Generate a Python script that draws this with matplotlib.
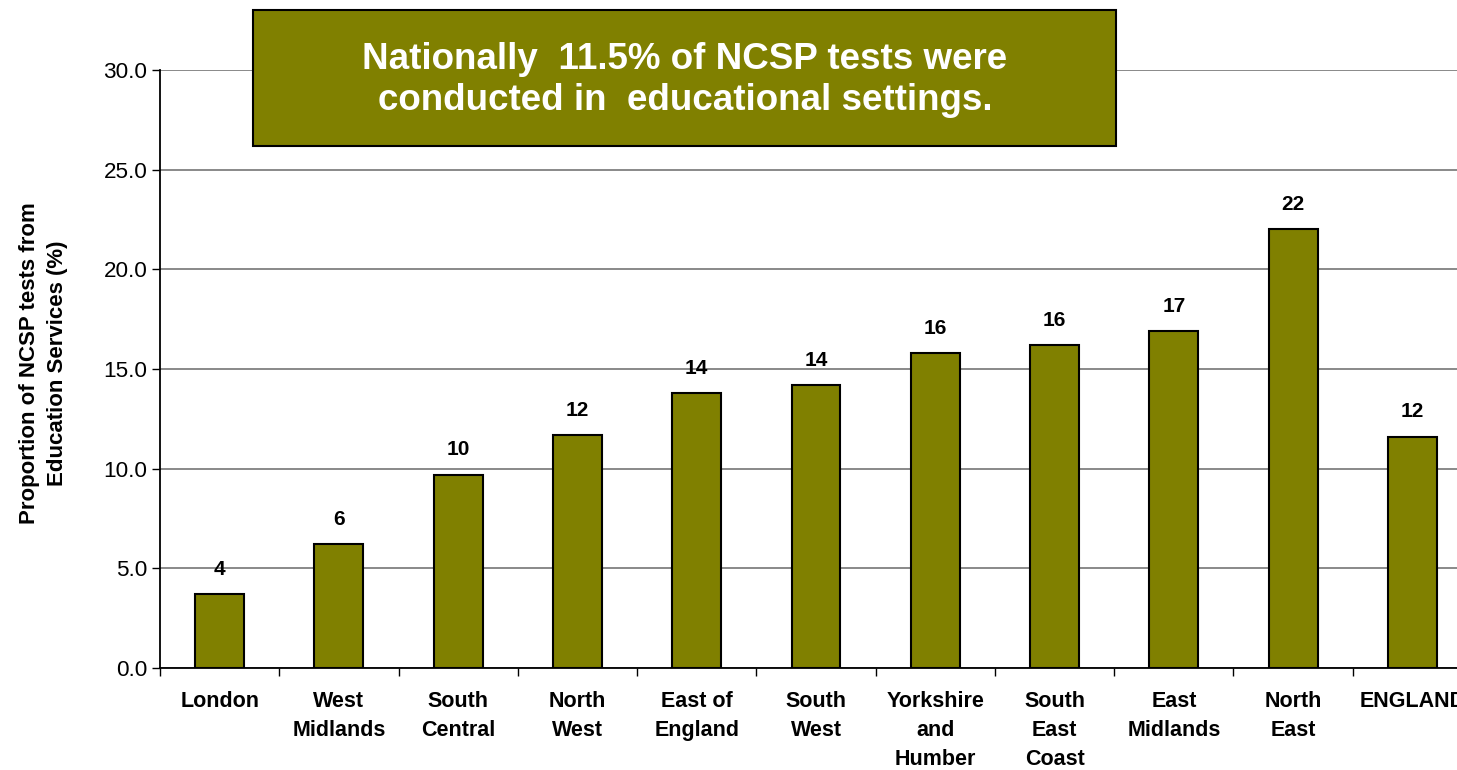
import numpy as np
import matplotlib.pyplot as plt
from matplotlib.patches import Rectangle

regions = ["London", "West\nMidlands", "South\nCentral", "North\nWest", "East of\nEngland",
           "South\nWest", "Yorkshire\nand\nHumber", "South\nEast\nCoast", "East\nMidlands",
           "North\nEast", "ENGLAND"]
values = [3.7, 6.2, 9.7, 11.7, 13.8, 14.2, 15.8, 16.2, 16.9, 22.0, 11.6]
value_labels = ["4", "6", "10", "12", "14", "14", "16", "16", "17", "22", "12"]
yticks = [0, 5, 10, 15, 20, 25, 30]

olive = "#808000"

plt.rcParams["font.family"] = ["Liberation Sans", "DejaVu Sans"]

fig = plt.figure(figsize=(14.57, 7.7), dpi=100)
ax = fig.add_axes([160 / 1457, 102 / 770, 1312 / 1457, 598 / 770])

x = np.arange(len(regions))
ax.bar(x, values, width=0.41, color=olive, edgecolor="black", linewidth=1.5, zorder=3)

for xi, v, lab in zip(x, values, value_labels):
    ax.annotate(lab, (xi, v), xytext=(0, 11), textcoords="offset points",
                ha="center", va="bottom", fontsize=15, fontweight="bold")

ax.set_xlim(-0.5, len(regions) - 0.5)
ax.set_ylim(0, 30)
ax.set_yticks(yticks)
ax.set_yticklabels([f"{t:.1f}" for t in yticks], fontsize=16.2)
ax.yaxis.grid(True, color="#808080", linewidth=1.3, zorder=0)
ax.tick_params(axis="y", direction="out", length=6, width=1, pad=3)

ax.set_xticks(x)
ax.set_xticklabels(regions, fontsize=15.5, fontweight="bold", linespacing=1.5)
ax.tick_params(axis="x", which="major", length=0, pad=16.5)
ax.set_xticks(np.arange(len(regions) + 1) - 0.5, minor=True)
ax.tick_params(axis="x", which="minor", direction="out", length=6, width=1)

for s in ["top", "right"]:
    ax.spines[s].set_visible(False)
ax.spines["left"].set_linewidth(1.3)
ax.spines["bottom"].set_linewidth(1.3)

ax.set_ylabel("Proportion of NCSP tests from\nEducation Services (%)",
              fontsize=16, fontweight="bold", linespacing=1.45)
ax.yaxis.set_label_coords(-0.07, 0.51)

# text box at the top
fig.patches.append(Rectangle((253 / 1457, 1 - 146 / 770), 863 / 1457, 136 / 770,
                             transform=fig.transFigure, facecolor=olive,
                             edgecolor="black", linewidth=1.5, zorder=5))
fig.text(685 / 1457, 1 - 80 / 770,
         "Nationally  11.5% of NCSP tests were\nconducted in  educational settings.",
         ha="center", va="center", color="white", fontsize=26.5, fontweight="bold",
         linespacing=1.24, zorder=6)

fig.savefig("out.png", dpi=100)
